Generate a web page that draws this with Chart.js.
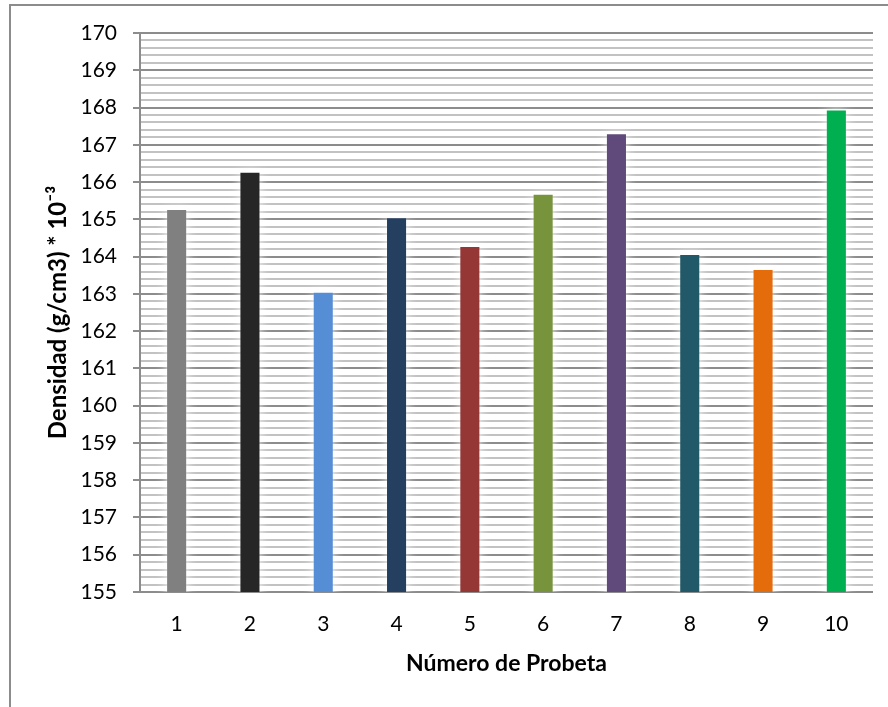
<!DOCTYPE html>
<html>
<head>
<meta charset="utf-8">
<script src="https://cdn.jsdelivr.net/npm/chart.js@4"></script>
<style>
  html, body { margin: 0; padding: 0; background: #fff; overflow: hidden; }
  #wrap { position: relative; width: 888px; height: 707px; }
  #frame { position: absolute; left: 9px; top: 4px; width: 900px; height: 720px; border: 2px solid #8c8c8c; box-sizing: border-box; }
  canvas { position: absolute; left: 0; top: 0; }
</style>
</head>
<body>
<div id="wrap">
  <div id="frame"></div>
  <canvas id="densChart" width="888" height="707"></canvas>
</div>
<script>
    // Densidad por probeta
    const probetas = ['1', '2', '3', '4', '5', '6', '7', '8', '9', '10'];
    const densidad = [165.25, 166.25, 163.03, 165.03, 164.26, 165.66, 167.28, 164.04, 163.64, 167.92];
    const colores = ['#808080', '#262626', '#558ed5', '#243f60', '#953735', '#77933c', '#604a7b', '#215968', '#e46c0a', '#00b050'];
    const yMin = 155, yMax = 170;

    const isMajor = v => Math.abs(v - Math.round(v)) < 1e-6;

    // sombra suave alrededor de las barras
    const barGlow = {
        id: 'barGlow',
        beforeDatasetsDraw(chart) {
            const c = chart.ctx;
            c.save();
            c.shadowColor = 'rgba(255,255,255,0.95)';
            c.shadowBlur = 12;
        },
        afterDatasetsDraw(chart) {
            chart.ctx.restore();
        }
    };

    const ctx = document.getElementById('densChart').getContext('2d');
    const densChart = new Chart(ctx, {
        type: 'bar',
        data: {
            labels: probetas,
            datasets: [{
                data: densidad,
                backgroundColor: colores,
                borderWidth: 0,
                barPercentage: 0.26,
                categoryPercentage: 1
            }]
        },
        options: {
            responsive: false,
            animation: false,
            layout: { padding: { left: 40, right: 15, top: 33, bottom: 30 } },
            plugins: {
                legend: { display: false },
                tooltip: { enabled: false }
            },
            scales: {
                x: {
                    grid: { display: false, drawTicks: false },
                    border: { display: false },
                    ticks: {
                        color: '#000',
                        padding: 20,
                        font: { family: 'Lato', size: 21 }
                    },
                    title: {
                        display: true,
                        text: 'Número de Probeta',
                        color: '#000',
                        padding: { top: 6, bottom: 0 },
                        font: { family: 'Lato', size: 23, weight: 'bold' }
                    },
                    afterFit: s => { s.height = 85; }
                },
                y: {
                    min: yMin,
                    max: yMax,
                    border: { display: true, color: '#8c8c8c', width: 2 },
                    grid: {
                        color: c => isMajor(c.tick.value) ? '#8c8c8c' : '#c2c2c2',
                        lineWidth: 2,
                        tickLength: 7,
                        tickColor: c => isMajor(c.tick.value) ? '#8c8c8c' : 'rgba(0,0,0,0)'
                    },
                    ticks: {
                        stepSize: 0.2,
                        autoSkip: false,
                        padding: 16,
                        color: '#000',
                        font: { family: 'Lato', size: 21 },
                        callback: v => isMajor(v) ? Math.round(v) : ''
                    },
                    title: {
                        display: true,
                        text: 'Densidad (g/cm3) * 10⁻³',
                        color: '#000',
                        padding: { top: 4, bottom: 0 },
                        font: { family: 'Lato', size: 24, weight: 'bold' }
                    },
                    afterFit: s => { s.width = 100; }
                }
            }
        },
        plugins: [barGlow]
    });
</script>
</body>
</html>
